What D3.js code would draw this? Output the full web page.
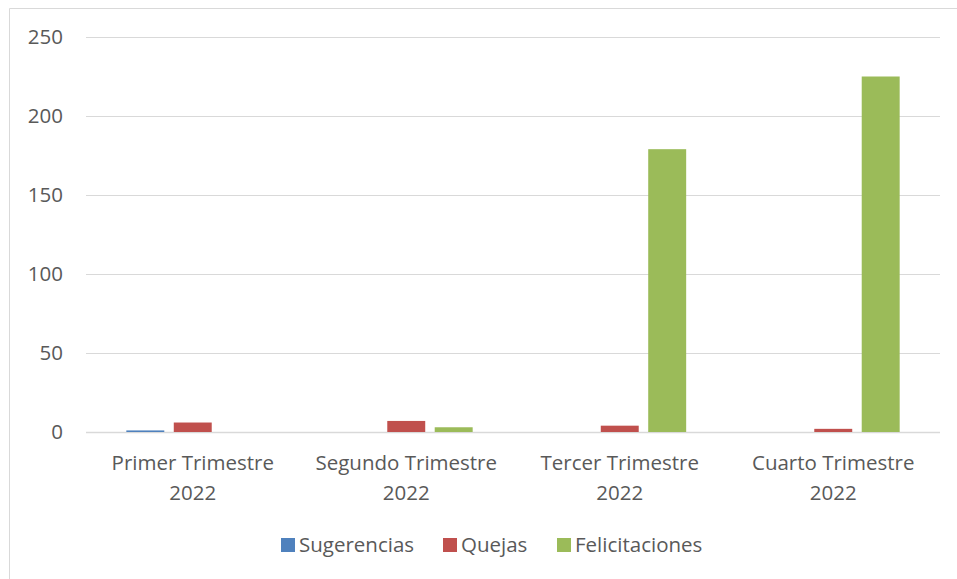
<!DOCTYPE html>
<html lang="es">
<head>
  <meta charset="UTF-8" />
  <title>Trimestres 2022</title>
  <script src="https://d3js.org/d3.v7.min.js"></script>
  <style>
    body { margin: 0; background: #fff; }
    svg { display: block; font-family: "Open Sans", Lato, sans-serif; }
  </style>
</head>
<body>
  <svg id="chart" width="957" height="579"></svg>
  <script>
    const categories = [["Primer Trimestre", "2022"], ["Segundo Trimestre", "2022"], ["Tercer Trimestre", "2022"], ["Cuarto Trimestre", "2022"]];
    const seriesNames = ["Sugerencias", "Quejas", "Felicitaciones"];
    const sugerencias = [1, 0, 0, 0];
    const quejas = [6, 7, 4, 2];
    const felicitaciones = [0, 3, 179, 225];
    const yTicks = [0, 50, 100, 150, 200, 250];

    const colors = ["#4f81bd", "#c0504d", "#9bbb59"];
    const series = [sugerencias, quejas, felicitaciones];

    const svg = d3.select("#chart");
    const textColor = "#595959";
    const fontSize = "20.5px";

    // chart frame (only left/top visible in the reference)
    svg.append("path")
      .attr("d", "M9.5,579 V8.5 H957")
      .attr("fill", "none")
      .attr("stroke", "#d9d9d9");

    const plotLeft = 86, plotRight = 940, plotTop = 37, plotBottom = 432;

    const x = d3.scaleBand()
      .domain(d3.range(categories.length))
      .range([plotLeft, plotRight]);

    const inner = d3.scaleBand()
      .domain(d3.range(seriesNames.length))
      .range([0, x.bandwidth()])
      .paddingInner(0.2)
      .paddingOuter(0.85);

    const y = d3.scaleLinear().domain([0, 250]).range([plotBottom, plotTop]);

    // gridlines
    svg.append("g")
      .selectAll("line")
      .data(yTicks)
      .join("line")
      .attr("x1", plotLeft)
      .attr("x2", plotRight)
      .attr("y1", d => Math.round(y(d)) + 0.5)
      .attr("y2", d => Math.round(y(d)) + 0.5)
      .attr("stroke", "#d9d9d9")
      .attr("stroke-width", d => d === 0 ? 1.5 : 1);

    // y tick labels
    svg.append("g")
      .selectAll("text")
      .data(yTicks)
      .join("text")
      .attr("x", 63)
      .attr("y", d => y(d) + 7)
      .attr("text-anchor", "end")
      .attr("fill", textColor)
      .style("font-size", fontSize)
      .text(d => d);

    // bars
    series.forEach((vals, si) => {
      svg.append("g")
        .selectAll("rect")
        .data(vals)
        .join("rect")
        .attr("x", (d, i) => x(i) + inner(si))
        .attr("width", inner.bandwidth())
        .attr("y", d => y(d))
        .attr("height", d => plotBottom - y(d))
        .attr("fill", colors[si]);
    });

    // category labels
    const cat = svg.append("g")
      .selectAll("text")
      .data(categories)
      .join("text")
      .attr("text-anchor", "middle")
      .attr("fill", textColor)
      .style("font-size", fontSize);
    cat.selectAll("tspan")
      .data((d, i) => d.map(t => ({ t, i })))
      .join("tspan")
      .attr("x", d => x(d.i) + x.bandwidth() / 2)
      .attr("y", (d, j) => 470 + j * 30)
      .text(d => d.t);

    // legend
    const legendX = [281, 443, 557];
    const legend = svg.append("g");
    seriesNames.forEach((name, i) => {
      legend.append("rect")
        .attr("x", legendX[i]).attr("y", 538)
        .attr("width", 14).attr("height", 14)
        .attr("fill", colors[i]);
      legend.append("text")
        .attr("x", legendX[i] + 18).attr("y", 552)
        .attr("fill", textColor)
        .style("font-size", fontSize)
        .text(name);
    });
  </script>
</body>
</html>
